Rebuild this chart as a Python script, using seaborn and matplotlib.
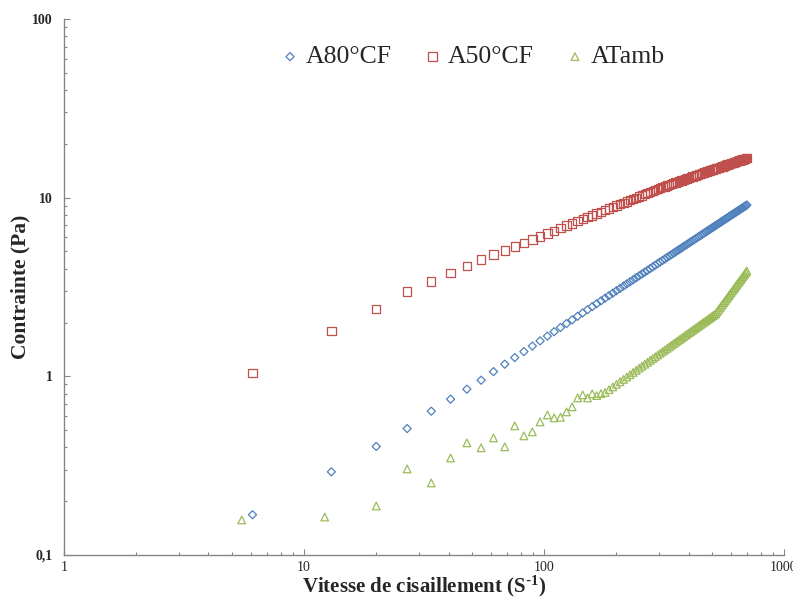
import numpy as np
import pandas as pd
import matplotlib
matplotlib.use("Agg")
import matplotlib.pyplot as plt
import matplotlib.ticker as mticker
import seaborn as sns

# shear rate (s-1), shared by the three samples
shear = [6.1, 13.0, 20.0, 26.9, 33.9, 40.8, 47.7, 54.7, 61.6, 68.6,
         75.5, 82.4, 89.4, 96.3, 103.3, 110.2, 117.1, 124.1, 131.0, 138.0,
         144.9, 151.8, 158.8, 165.7, 172.7, 179.6, 186.5, 193.5, 200.4, 207.4,
         214.3, 221.2, 228.2, 235.1, 242.1, 249.0, 255.9, 262.9, 269.8, 276.8,
         283.7, 290.6, 297.6, 304.5, 311.5, 318.4, 325.3, 332.3, 339.2, 346.2,
         353.1, 360.0, 367.0, 373.9, 380.9, 387.8, 394.7, 401.7, 408.6, 415.6,
         422.5, 429.4, 436.4, 443.3, 450.3, 457.2, 464.1, 471.1, 478.0, 485.0,
         491.9, 498.8, 505.8, 512.7, 519.7, 526.6, 533.5, 540.5, 547.4, 554.4,
         561.3, 568.2, 575.2, 582.1, 589.1, 596.0, 602.9, 609.9, 616.8, 623.8,
         630.7, 637.6, 644.6, 651.5, 658.5, 665.4, 672.3, 679.3, 686.2, 693.2,
         700.1]
shear_tamb = [5.5, 12.2] + shear[2:]

a80 = [0.168, 0.292, 0.405, 0.510, 0.638, 0.745, 0.847, 0.951, 1.062, 1.169,
       1.273, 1.375, 1.477, 1.578, 1.679, 1.777, 1.876, 1.974, 2.071, 2.168,
       2.264, 2.359, 2.455, 2.549, 2.643, 2.736, 2.829, 2.922, 3.014, 3.107,
       3.197, 3.289, 3.380, 3.471, 3.562, 3.651, 3.741, 3.831, 3.919, 4.009,
       4.098, 4.184, 4.274, 4.361, 4.450, 4.536, 4.623, 4.710, 4.797, 4.883,
       4.969, 5.056, 5.143, 5.227, 5.314, 5.400, 5.485, 5.570, 5.654, 5.741,
       5.823, 5.908, 5.993, 6.077, 6.161, 6.244, 6.328, 6.412, 6.495, 6.577,
       6.661, 6.743, 6.827, 6.909, 6.991, 7.074, 7.156, 7.239, 7.321, 7.402,
       7.485, 7.566, 7.648, 7.727, 7.810, 7.889, 7.973, 8.054, 8.132, 8.213,
       8.295, 8.373, 8.456, 8.535, 8.616, 8.695, 8.776, 8.857, 8.935, 9.017,
       9.097]

a50 = [1.04, 1.80, 2.39, 2.98, 3.39, 3.79, 4.13, 4.50, 4.80, 5.05,
       5.32, 5.58, 5.83, 6.07, 6.31, 6.53, 6.75, 6.97, 7.17, 7.38,
       7.57, 7.76, 7.96, 8.14, 8.32, 8.50, 8.68, 8.85, 9.02, 9.19,
       9.35, 9.51, 9.67, 9.83, 9.99, 10.14, 10.29, 10.44, 10.59, 10.73,
       10.88, 11.02, 11.16, 11.30, 11.44, 11.57, 11.71, 11.82, 11.94, 12.05,
       12.16, 12.27, 12.38, 12.49, 12.59, 12.70, 12.80, 12.91, 13.01, 13.11,
       13.21, 13.31, 13.41, 13.51, 13.61, 13.70, 13.80, 13.89, 13.99, 14.08,
       14.17, 14.27, 14.36, 14.45, 14.54, 14.62, 14.71, 14.80, 14.89, 14.97,
       15.06, 15.15, 15.23, 15.32, 15.40, 15.48, 15.57, 15.65, 15.73, 15.81,
       15.89, 15.97, 16.05, 16.13, 16.21, 16.29, 16.37, 16.44, 16.52, 16.60,
       16.68]

atamb = [0.157, 0.163, 0.188, 0.303, 0.253, 0.349, 0.424, 0.398, 0.452, 0.403,
         0.528, 0.464, 0.489, 0.556, 0.608, 0.585, 0.590, 0.632, 0.675, 0.757,
         0.787, 0.757, 0.798, 0.780, 0.800, 0.812, 0.842, 0.872, 0.902, 0.932,
         0.961, 0.991, 1.021, 1.051, 1.080, 1.110, 1.139, 1.169, 1.198, 1.228,
         1.257, 1.286, 1.316, 1.345, 1.375, 1.404, 1.433, 1.462, 1.492, 1.521,
         1.550, 1.579, 1.608, 1.636, 1.666, 1.695, 1.724, 1.753, 1.781, 1.811,
         1.839, 1.868, 1.897, 1.926, 1.955, 1.984, 2.012, 2.041, 2.070, 2.099,
         2.127, 2.156, 2.185, 2.214, 2.245, 2.301, 2.357, 2.414, 2.471, 2.529,
         2.588, 2.647, 2.706, 2.767, 2.828, 2.889, 2.952, 3.015, 3.077, 3.142,
         3.206, 3.271, 3.338, 3.404, 3.470, 3.539, 3.607, 3.677, 3.745, 3.817,
         3.888]

sns.set_theme(style="white")
plt.rcParams["font.family"] = ["Liberation Serif", "DejaVu Serif"]
plt.rcParams["mathtext.default"] = "regular"

fig, ax = plt.subplots(figsize=(7.93, 5.99), dpi=100)
fig.subplots_adjust(left=0.0807, right=0.9887, bottom=0.0735, top=0.9683)

series = [
    ("A80°CF", shear, a80, "D", 17, "#4F81BD"),
    ("A50°CF", shear, a50, "s", 36, "#C0504D"),
    ("ATamb", shear_tamb, atamb, "^", 30, "#9BBB59"),
]
for name, xs, ys, mk, size, col in series:
    df = pd.DataFrame({"x": xs, "y": ys})
    sns.scatterplot(data=df, x="x", y="y", marker=mk, s=size, color=col,
                    facecolors="none", edgecolor=col, linewidth=0.9,
                    label=name, ax=ax)

ax.set_xscale("log")
ax.set_yscale("log")
ax.set_xlim(1, 1000)
ax.set_ylim(0.1, 100)

ax.xaxis.set_major_locator(mticker.FixedLocator([1, 10, 100, 1000]))
ax.xaxis.set_major_formatter(mticker.FixedFormatter(["1", "10", "100", "1000"]))
ax.yaxis.set_major_locator(mticker.FixedLocator([0.1, 1, 10, 100]))
ax.yaxis.set_major_formatter(mticker.FixedFormatter(["0,1", "1", "10", "100"]))
ax.xaxis.set_minor_locator(mticker.LogLocator(base=10, subs=np.arange(2, 10)))
ax.yaxis.set_minor_locator(mticker.LogLocator(base=10, subs=np.arange(2, 10)))
ax.xaxis.set_minor_formatter(mticker.NullFormatter())
ax.yaxis.set_minor_formatter(mticker.NullFormatter())

for side in ["top", "right"]:
    ax.spines[side].set_visible(False)
for side in ["left", "bottom"]:
    ax.spines[side].set_color("#868686")
    ax.spines[side].set_linewidth(1)

ax.tick_params(which="both", direction="in", color="#868686", width=0.8,
               left=True, bottom=True)
ax.tick_params(which="major", length=4)
ax.tick_params(which="minor", length=2.5)
ax.tick_params(axis="y", which="major", pad=8, labelsize=10)
ax.tick_params(axis="x", which="major", pad=4, labelsize=10)
for lab in ax.get_yticklabels():
    lab.set_fontweight("bold")

ax.set_xlabel("Vitesse de cisaillement (S$^{\\text{-}1}$)", fontsize=15,
              fontweight="bold")
ax.xaxis.set_label_coords(0.5, -0.035)
ax.set_ylabel("Contrainte (Pa)", fontsize=15.5, fontweight="bold")
ax.yaxis.set_label_coords(-0.046, 0.5)

ax.legend(loc="center", bbox_to_anchor=(0.597, 0.905),
          bbox_transform=fig.transFigure, ncol=3, frameon=False,
          fontsize=18.5, scatterpoints=1, handlelength=0.6,
          handletextpad=0.3, columnspacing=1.3)

fig.savefig("out.png", dpi=100)
